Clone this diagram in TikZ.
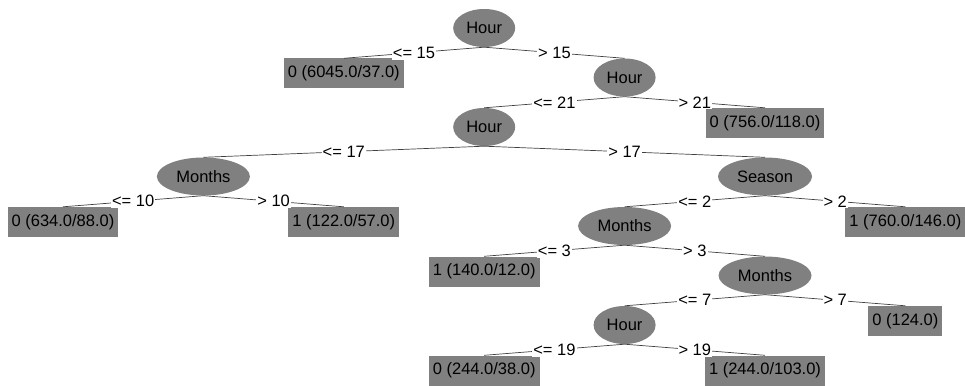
\documentclass[tikz,border=0pt]{standalone}
\usepackage{fontspec}
\setmainfont{Liberation Sans}
\usetikzlibrary{shapes.geometric}
\definecolor{nodegray}{RGB}{128,128,128}
\tikzset{
  splitnode/.style={ellipse,fill=nodegray,minimum height=38pt,inner sep=0pt,minimum width=#1},
  leafnode/.style={rectangle,fill=nodegray,minimum height=30pt,inner xsep=4pt,inner ysep=0pt},
  cond/.style={fill=white,text=black,inner sep=1pt}
}
\begin{document}
\begin{tikzpicture}[x=1pt,y=-1pt,font=\fontsize{16.5pt}{19pt}\selectfont]
\useasboundingbox (0,0) rectangle (965,385);
\node[splitnode=62pt] (h0) at (484.2,28) {Hour};
\node[leafnode] (l0) at (343.8,73.5) {0 (6045.0/37.0)}; \node[splitnode=62pt] (h1) at (624.6,77.5) {Hour};
\node[splitnode=62pt] (h2) at (484.2,127) {Hour}; \node[leafnode] (l1) at (765,123) {0 (756.0/118.0)};
\node[splitnode=93pt] (m0) at (203.4,176.5) {Months}; \node[splitnode=94pt] (s0) at (765,176.5) {Season};
\node[leafnode] (l2) at (63,222) {0 (634.0/88.0)}; \node[leafnode] (l3) at (343.8,222) {1 (122.0/57.0)};
\node[splitnode=93pt] (m1) at (624.6,226) {Months}; \node[leafnode] (l4) at (905.4,222) {1 (760.0/146.0)};
\node[leafnode] (l5) at (484.2,271.5) {1 (140.0/12.0)}; \node[splitnode=93pt] (m2) at (765,275.5) {Months};
\node[splitnode=62pt] (h3) at (624.6,325) {Hour}; \node[leafnode] (l6) at (905.4,321) {0 (124.0)};
\node[leafnode] (l7) at (484.2,370.5) {0 (244.0/38.0)}; \node[leafnode] (l8) at (765,370.5) {1 (244.0/103.0)};
\path[black!75,line width=0.7pt]
 (h0.south) edge node[cond] {<= 15} (l0.north) edge node[cond] {> 15} (h1.north)
 (h1.south) edge node[cond] {<= 21} (h2.north) edge node[cond] {> 21} (l1.north)
 (h2.south) edge node[cond] {<= 17} (m0.north) edge node[cond] {> 17} (s0.north)
 (m0.south) edge node[cond] {<= 10} (l2.north) edge node[cond] {> 10} (l3.north)
 (s0.south) edge node[cond] {<= 2} (m1.north) edge node[cond] {> 2} (l4.north)
 (m1.south) edge node[cond] {<= 3} (l5.north) edge node[cond] {> 3} (m2.north)
 (m2.south) edge node[cond] {<= 7} (h3.north) edge node[cond] {> 7} (l6.north)
 (h3.south) edge node[cond] {<= 19} (l7.north) edge node[cond] {> 19} (l8.north);
\end{tikzpicture}
\end{document}
